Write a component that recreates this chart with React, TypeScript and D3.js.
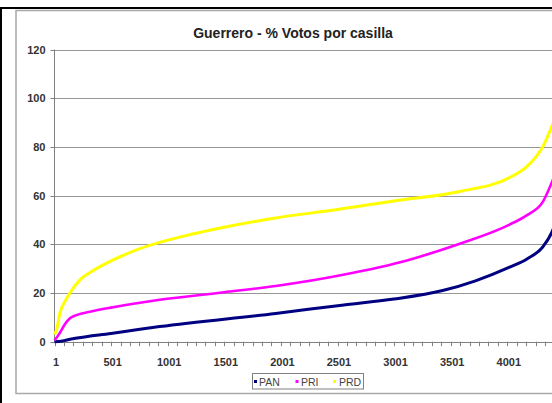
import React from "react";
import * as d3 from "d3";

const seriesNames = ["PAN", "PRI", "PRD"];
const seriesColors = ["#000080", "#FF00FF", "#FFFF00"];

const panCasilla = [1, 60, 100, 200, 500, 756, 930, 1955, 2540, 3000, 3430, 3720, 4016, 4175, 4316, 4395, 4450];
const panValues = [0, 0.2, 0.6, 1.5, 3.4, 5.1, 6.2, 11.6, 15, 17.5, 21, 25, 30.5, 34, 39, 45, 52];

const priCasilla = [1, 40, 90, 137, 200, 314, 500, 756, 930, 1500, 1955, 2540, 3130, 3600, 4016, 4175, 4316, 4395, 4450];
const priValues = [0.5, 3, 7, 9.6, 11, 12.3, 14, 16, 17.2, 20.3, 22.9, 27.4, 33.6, 40.5, 48, 52, 57.5, 65.5, 72];

const prdCasilla = [1, 20, 50, 93, 137, 226, 314, 462, 609, 756, 930, 1200, 1500, 1955, 2500, 3000, 3583, 4016, 4175, 4316, 4395, 4450];
const prdValues = [3, 5, 12, 16.5, 20, 25.4, 28.4, 32.3, 35.5, 38.2, 40.8, 44, 47, 50.8, 54.3, 57.8, 61.7, 67.3, 72, 80.2, 88.5, 95];

const yTicks = [0, 20, 40, 60, 80, 100, 120];
const xLabels = [1, 501, 1001, 1501, 2001, 2501, 3001, 3501, 4001];
const xTickStep = 500 / 6;
const totalCasillas = 4501;

export default function App() {
  const W = 552, H = 403;
  const x = d3.scaleLinear().domain([1, totalCasillas]).range([54.5, 54.5 + 4500 * 0.1132]);
  const y = d3.scaleLinear().domain([0, 120]).range([341.7, 49.5]);
  const font = "'Liberation Sans', Arial, sans-serif";

  const series = [
    { c: panCasilla, v: panValues, w: 3 },
    { c: priCasilla, v: priValues, w: 2.6 },
    { c: prdCasilla, v: prdValues, w: 3 },
  ];
  const line = d3
    .line<[number, number]>()
    .x((d) => x(d[0]))
    .y((d) => y(d[1]))
    .curve(d3.curveMonotoneX);

  const xTicks = d3.range(0, 60).map((i) => 1 + i * xTickStep).filter((c) => x(c) < W + 5);

  const legendItems = [
    { mx: 255.5, tx: 259 },
    { mx: 297, tx: 301 },
    { mx: 334.5, tx: 339 },
  ];

  return (
    <svg
      width={W}
      height={H}
      style={{ position: "absolute", left: 0, top: 0, background: "#fff" }}
      fontFamily={font}
    >
      <rect x={0} y={0} width={W} height={H} fill="#fff" />
      <line x1={0} y1={8} x2={W} y2={8} stroke="#000" strokeWidth={2} />
      <line x1={1} y1={7} x2={1} y2={H} stroke="#000" strokeWidth={2} />
      <rect x={16} y={10.5} width={620} height={383} fill="#fff" stroke="#a8a8a8" strokeWidth={1.5} />
      <text x={293} y={37.5} textAnchor="middle" fontSize={14} fontWeight="bold" fill="#222">
        Guerrero - % Votos por casilla
      </text>
      {yTicks.slice(1).map((t) => (
        <line key={t} x1={54.5} x2={W} y1={Math.round(y(t)) + 0.5} y2={Math.round(y(t)) + 0.5} stroke="#979797" strokeWidth={1.2} />
      ))}
      <line x1={54.5} x2={54.5} y1={y(120)} y2={y(0)} stroke="#808080" strokeWidth={1} />
      {yTicks.map((t) => (
        <g key={t}>
          <line x1={50.5} x2={54.5} y1={Math.round(y(t)) + 0.5} y2={Math.round(y(t)) + 0.5} stroke="#808080" />
          <text x={45.5} y={y(t) + 4} textAnchor="end" fontSize={11} fontWeight="bold" fill="#333">
            {t}
          </text>
        </g>
      ))}
      <line x1={54.5} x2={W} y1={Math.round(y(0)) + 0.5} y2={Math.round(y(0)) + 0.5} stroke="#808080" />
      {xTicks.map((c, i) => (
        <line key={i} x1={Math.round(x(c)) + 0.5} x2={Math.round(x(c)) + 0.5} y1={y(0)} y2={y(0) + 4.5} stroke="#808080" />
      ))}
      {xLabels.map((c) => (
        <text key={c} x={x(c) + 1.5} y={366} textAnchor="middle" fontSize={11} fontWeight="bold" fill="#333">
          {c}
        </text>
      ))}
      {series.map((s, i) => (
        <path
          key={i}
          d={line(s.c.map((c, j) => [c, s.v[j]] as [number, number])) || ""}
          fill="none"
          stroke={seriesColors[i]}
          strokeWidth={s.w}
          strokeLinejoin="round"
        />
      ))}
      <rect x={252.5} y={373.5} width={111} height={15.5} fill="#fff" stroke="#808080" strokeWidth={1} />
      {legendItems.map((it, i) => (
        <g key={i}>
          <rect x={it.mx - 1.5} y={380} width={3} height={3} fill={seriesColors[i]} />
          <text x={it.tx} y={385.5} fontSize={10.5} fill="#444">
            {seriesNames[i]}
          </text>
        </g>
      ))}
    </svg>
  );
}
